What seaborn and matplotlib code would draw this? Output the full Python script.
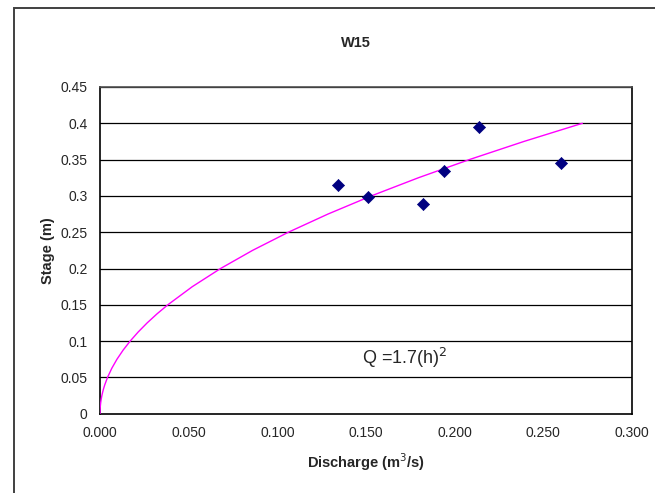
### Rating curve W15
import pandas as pd
import matplotlib.pyplot as plt
import matplotlib.patches as mpatches
import seaborn as sns

# measured points
discharge = [0.134, 0.151, 0.182, 0.194, 0.214, 0.260]
stage = [0.315, 0.299, 0.289, 0.334, 0.395, 0.345]

# fitted curve Q = 1.7(h)^2
curve_stage = [0.0, 0.0025, 0.005, 0.0075, 0.01, 0.015, 0.02, 0.025, 0.03, 0.035, 0.04, 0.05, 0.0625,
               0.075, 0.0875, 0.1, 0.1125, 0.125, 0.1375, 0.15, 0.175, 0.2, 0.225, 0.25, 0.275,
               0.3, 0.325, 0.35, 0.375, 0.4]
curve_q = [0.0, 0.0000106, 0.0000425, 0.0000956, 0.00017, 0.000383, 0.00068, 0.00106, 0.00153,
           0.00208, 0.00272, 0.00425, 0.00664, 0.00956, 0.01302, 0.017, 0.02152, 0.02656, 0.03214,
           0.03825, 0.05206, 0.068, 0.08606, 0.10625, 0.12856, 0.153, 0.17956, 0.20825, 0.23906, 0.272]

x_ticks = [0.0, 0.05, 0.1, 0.15, 0.2, 0.25, 0.3]
x_labels = ["0.000", "0.050", "0.100", "0.150", "0.200", "0.250", "0.300"]
y_ticks = [0, 0.05, 0.1, 0.15, 0.2, 0.25, 0.3, 0.35, 0.4, 0.45]
y_labels = ["0", "0.05", "0.1", "0.15", "0.2", "0.25", "0.3", "0.35", "0.4", "0.45"]

pontos = pd.DataFrame({"Q": discharge, "h": stage})
curva = pd.DataFrame({"Q": curve_q, "h": curve_stage})

sns.set_style("white")
plt.rcParams["font.family"] = ["Liberation Sans", "DejaVu Sans"]

fig = plt.figure(figsize = (6.55, 4.93), dpi = 100)
ax = fig.add_axes([100/655, 1 - 413.7/493, 532/655, 326.7/493])

# chart area border
fig.patches.append(mpatches.Rectangle((14/655, -0.1), 1.0, 1.1 - 8/493, transform = fig.transFigure,
                                      fill = False, edgecolor = "#404040", linewidth = 1.4))

for yv in y_ticks[1:]:
    ax.axhline(yv, color = "black", linewidth = 0.9, zorder = 1)

sns.lineplot(data = curva, x = "Q", y = "h", ax = ax, color = "#FF00FF", linewidth = 1.0,
             sort = False, estimator = None, zorder = 3)
sns.scatterplot(data = pontos, x = "Q", y = "h", ax = ax, marker = "D", s = 38, color = "#000080",
                edgecolor = "#000080", zorder = 4)

ax.set_xlim(0, 0.3)
ax.set_ylim(0, 0.45)
ax.set_xticks(x_ticks)
ax.set_xticklabels(x_labels, fontsize = 10)
ax.set_yticks(y_ticks)
ax.set_yticklabels(y_labels, fontsize = 10)
ax.tick_params(axis = "both", direction = "out", length = 4, width = 1, color = "black", pad = 5)
for lado in ["left", "bottom", "right", "top"]:
    ax.spines[lado].set_color("black")
    ax.spines[lado].set_linewidth(1.2)
ax.spines["top"].set_color("#505050")

ax.set_xlabel("Discharge (m$^3$/s)", fontsize = 10.5, weight = "bold", labelpad = 8)
ax.set_ylabel("Stage (m)", fontsize = 10.5, weight = "bold", labelpad = 4)
fig.text(356/655, 1 - 43/493, "W15", ha = "center", va = "center", fontsize = 10.5, weight = "bold")
ax.text(0.148, 0.077, "Q =1.7(h)$^2$", fontsize = 13, ha = "left", va = "center")

plt.savefig("out.png", dpi = 100)
